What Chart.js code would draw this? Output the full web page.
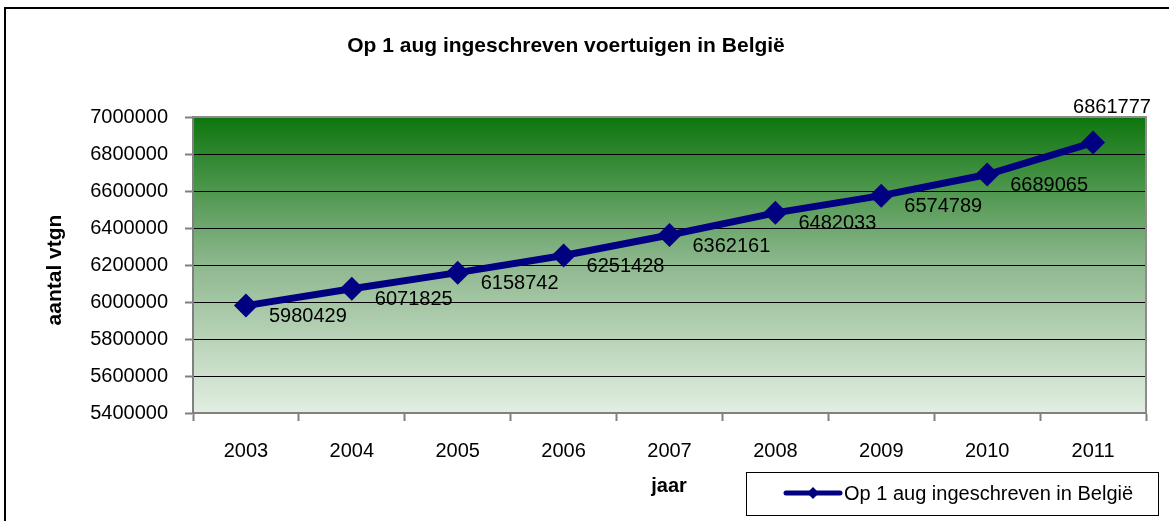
<!DOCTYPE html>
<html>
<head>
<meta charset="utf-8">
<script src="https://cdn.jsdelivr.net/npm/chart.js@4/dist/chart.umd.min.js"></script>
<style>
  html, body { margin: 0; padding: 0; background: #fff; overflow: hidden; }
  canvas { display: block; }
</style>
</head>
<body>
<canvas id="c" width="1169" height="521"></canvas>
<script>
const categories = ['2003', '2004', '2005', '2006', '2007', '2008', '2009', '2010', '2011'];
const seriesName = 'Op 1 aug ingeschreven in België';
const values = [5980429, 6071825, 6158742, 6251428, 6362161, 6482033, 6574789, 6689065, 6861777];
const yTicks = [5400000, 5600000, 5800000, 6000000, 6200000, 6400000, 6600000, 6800000, 7000000];
const chartTitle = 'Op 1 aug ingeschreven voertuigen in België';
const yTitle = 'aantal vtgn';
const xTitle = 'jaar';

const FONT = '"Liberation Sans", Arial, sans-serif';
const NAVY = '#000080';

const bgPlugin = {
  id: 'bg',
  beforeDraw(chart) {
    const { ctx, chartArea: a } = chart;
    ctx.save();
    // outer frame (left and top only, rest cropped)
    ctx.strokeStyle = '#000';
    ctx.lineWidth = 2;
    ctx.beginPath();
    ctx.moveTo(5, 600);
    ctx.lineTo(5, 8);
    ctx.lineTo(1300, 8);
    ctx.stroke();
    const g = ctx.createLinearGradient(0, a.top, 0, a.bottom);
    g.addColorStop(0, '#0e760e');
    g.addColorStop(0.5, '#8fb88f');
    g.addColorStop(1, '#e2eee2');
    ctx.fillStyle = g;
    ctx.fillRect(a.left, a.top, a.right - a.left, a.bottom - a.top);
    ctx.restore();
  },
  afterDraw(chart) {
    const { ctx, chartArea: a } = chart;
    ctx.save();
    // plot frame top/right
    ctx.strokeStyle = '#8c8c8c';
    ctx.lineWidth = 2;
    ctx.beginPath();
    ctx.moveTo(a.left, a.top);
    ctx.lineTo(a.right, a.top);
    ctx.lineTo(a.right, a.bottom);
    ctx.stroke();

    // title
    ctx.fillStyle = '#000';
    ctx.font = 'bold 21px ' + FONT;
    ctx.textAlign = 'center';
    ctx.textBaseline = 'middle';
    ctx.fillText(chartTitle, 566, 46);

    // x title
    ctx.font = 'bold 20px ' + FONT;
    ctx.fillText(xTitle, 669, 486);

    // y title
    ctx.save();
    ctx.font = 'bold 21px ' + FONT;
    ctx.translate(55, 270);
    ctx.rotate(-Math.PI / 2);
    ctx.fillText(yTitle, 0, 0);
    ctx.restore();

    // legend
    const lx = 746, ly = 472, lw = 412, lh = 43;
    ctx.fillStyle = '#fff';
    ctx.fillRect(lx, ly, lw, lh);
    ctx.strokeStyle = '#000';
    ctx.lineWidth = 1;
    ctx.strokeRect(lx + 0.5, ly + 0.5, lw, lh);
    ctx.strokeStyle = NAVY;
    ctx.lineWidth = 5;
    ctx.lineCap = 'round';
    ctx.beginPath();
    ctx.moveTo(786, 493);
    ctx.lineTo(840, 493);
    ctx.stroke();
    ctx.fillStyle = NAVY;
    ctx.beginPath();
    ctx.moveTo(813, 487); ctx.lineTo(819, 493); ctx.lineTo(813, 499); ctx.lineTo(807, 493);
    ctx.closePath(); ctx.fill();
    ctx.fillStyle = '#000';
    ctx.font = '20px ' + FONT;
    ctx.textAlign = 'left';
    ctx.fillText(seriesName, 844, 494);
    ctx.restore();
  },
  afterDatasetsDraw(chart) {
    const { ctx } = chart;
    const meta = chart.getDatasetMeta(0);
    ctx.save();
    ctx.fillStyle = '#000';
    ctx.font = '20px ' + FONT;
    ctx.textBaseline = 'middle';
    meta.data.forEach((pt, i) => {
      const last = i === values.length - 1;
      ctx.textAlign = 'left';
      if (last) ctx.fillText(String(values[i]), pt.x - 20, pt.y - 35);
      else ctx.fillText(String(values[i]), pt.x + 23, pt.y + 11);
    });
    ctx.restore();
  }
};

new Chart(document.getElementById('c'), {
  type: 'line',
  data: {
    labels: categories,
    datasets: [{
      label: seriesName,
      data: values,
      borderColor: NAVY,
      backgroundColor: NAVY,
      borderWidth: 7,
      pointStyle: 'rectRot',
      pointRadius: 12,
      pointHoverRadius: 12,
      pointBackgroundColor: NAVY,
      pointBorderColor: NAVY,
      pointBorderWidth: 0,
      tension: 0,
      fill: false
    }]
  },
  options: {
    responsive: false,
    animation: false,
    devicePixelRatio: 1,
    layout: { padding: { left: 0, top: 117, right: 23, bottom: 0 } },
    plugins: { legend: { display: false }, title: { display: false }, tooltip: { enabled: false } },
    scales: {
      x: {
        type: 'category',
        offset: true,
        afterFit(s) { s.height = 108; },
        grid: { offset: true, drawOnChartArea: false, drawTicks: true, tickLength: 8, tickColor: '#808080', tickWidth: 2 },
        border: { display: true, color: '#808080', width: 2 },
        ticks: { color: '#000', font: { family: FONT, size: 20 }, padding: 18, maxRotation: 0 }
      },
      y: {
        min: 5400000,
        max: 7000000,
        afterFit(s) { s.width = 193; },
        afterBuildTicks(s) { s.ticks = yTicks.map(v => ({ value: v })); },
        grid: {
          color: (c) => (c.tick && c.tick.value === 7000000) ? '#8c8c8c' : '#000',
          lineWidth: 1, tickLength: 8, tickColor: '#808080', tickWidth: 2
        },
        border: { display: true, color: '#808080', width: 2 },
        ticks: { color: '#000', font: { family: FONT, size: 20 }, padding: 17, callback: (v) => String(v) }
      }
    }
  },
  plugins: [bgPlugin]
});
</script>
</body>
</html>
